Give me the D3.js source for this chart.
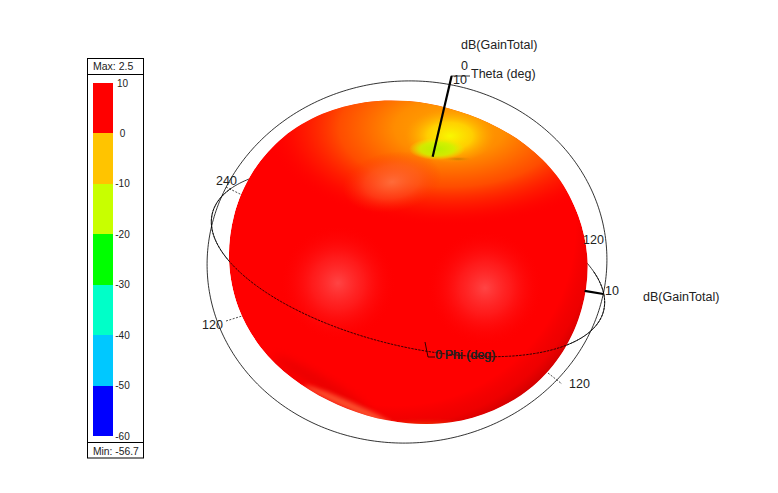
<!DOCTYPE html>
<html><head><meta charset="utf-8">
<script src="https://cdnjs.cloudflare.com/ajax/libs/d3/7.8.5/d3.min.js"></script>
<style>html,body{margin:0;background:#fff}svg{display:block}text{font-family:"Liberation Sans",Arial,sans-serif;fill:#222}</style>
</head><body><svg id="c" width="778" height="493"></svg>
<script>
// legend data
const legendTicks = [10, 0, -10, -20, -30, -40, -50, -60];
const legendColors = ["#ff0000", "#ffc400", "#c8ff00", "#00ff00", "#00ffc8", "#00c8ff", "#0000ff"];
const maxLabel = "Max: 2.5", minLabel = "Min: -56.7";
// pattern outline: gain (dB) per screen direction (deg clockwise from +x)
const bodyAngles = [0,15,30,45,60,75,90,105,120,135,150,165,180,195,210,225,240,255,270,285,300,315,330,345];
const bodyGain = [1.63,1.74,1.39,0.4,-1.28,-3.03,-4.66,-5.44,-5.18,-3.72,-1.58,0.26,1.39,1.8,1.6,0.57,-1.28,-3.24,-4.78,-5.44,-4.83,-3.07,-0.94,0.57];

const svg = d3.select("#c"), defs = svg.append("defs");
const cx = 408, cy = 262;
const rScale = d3.scaleLinear().domain([-60, 10]).range([0, 204]);
const polar = (deg, r) => [cx + r * Math.cos(deg * Math.PI / 180), cy + r * Math.sin(deg * Math.PI / 180)];

/* ---------- legend ---------- */
const yL = d3.scaleLinear().domain([10, -60]).range([83, 436]);
const leg = svg.append("g");
leg.selectAll("rect.b").data(legendColors).join("rect").attr("class","b")
  .attr("x",93).attr("width",20)
  .attr("y",(d,i)=>yL(legendTicks[i])).attr("height",(d,i)=>yL(legendTicks[i+1])-yL(legendTicks[i]))
  .attr("fill",d=>d).attr("shape-rendering","crispEdges");
leg.append("rect").attr("x",87.5).attr("y",58.5).attr("width",56).attr("height",399.5).attr("fill","none").attr("stroke","#000");
[74.5,442.5].forEach(y=>leg.append("line").attr("x1",87.5).attr("x2",143.5).attr("y1",y).attr("y2",y).attr("stroke","#000"));
leg.selectAll("text.t").data(legendTicks).join("text").attr("class","t")
  .attr("x",122.5).attr("y",d=>yL(d)+3.5).attr("text-anchor","middle").attr("font-size",10).text(d=>d);
leg.append("text").attr("x",93).attr("y",70).attr("font-size",10.5).text(maxLabel);
leg.append("text").attr("x",93).attr("y",455).attr("font-size",10.3).text(minLabel);

/* ---------- frame circles ---------- */
const ringPath = (a,b,rot,c0,c1,x0=cx,y0=cy) => {
  const ts = d3.range(c0, c1+0.5, 1), ro = rot*Math.PI/180;
  return d3.line().curve(d3.curveLinear)(ts.map(t=>{
    const u=a*Math.cos(t*Math.PI/180), v=b*Math.sin(t*Math.PI/180);
    return [x0+u*Math.cos(ro)-v*Math.sin(ro), y0+u*Math.sin(ro)+v*Math.cos(ro)];
  }));
};
const ring = (d,extra)=>svg.append("path").attr("d",d).attr("fill","none").attr("stroke","#000").attr("stroke-width",0.8).attr("stroke-dasharray",extra||null);
ring(ringPath(200,181,-4,0,360,407,262));
ring(ringPath(201.6,83.7,14,0,360));

/* tick stubs */
const stub = (x1,y1,x2,y2)=>svg.append("line").attr("x1",x1).attr("y1",y1).attr("x2",x2).attr("y2",y2).attr("stroke","#000").attr("stroke-width",0.7).attr("stroke-dasharray","2 1.5");
stub(226,321,242,316); stub(226,187,242,195); stub(548,373,562,384);

/* ---------- pattern body ---------- */
const outline = d3.lineRadial().curve(d3.curveCatmullRomClosed)
  .angle((d,i)=>(bodyAngles[i]+90)*Math.PI/180).radius(d=>rScale(d))(bodyGain);
defs.append("clipPath").attr("id","bodyClip").append("path").attr("d",outline).attr("transform",`translate(${cx},${cy})`);
const blur = (id,s)=>defs.append("filter").attr("id",id).attr("x","-50%").attr("y","-50%").attr("width","200%").attr("height","200%").append("feGaussianBlur").attr("stdDeviation",s);
blur("b2",2); blur("b4",4);
const grad = (id,stops,attrs={})=>{const g=defs.append("radialGradient").attr("id",id);Object.entries(attrs).forEach(([k,v])=>g.attr(k,v));
  stops.forEach(s=>g.append("stop").attr("offset",s[0]).attr("stop-color",s[1]).attr("stop-opacity",s[2]));};
grad("rim",[[0.84,"#b00000",0],[0.93,"#c80000",0.3],[1,"#b80000",0.75]],{gradientUnits:"userSpaceOnUse",cx:395,cy:225,r:215});
grad("hi",[[0,"#ff4444",1],[0.45,"#ff2626",0.7],[1,"#ff0000",0]]);
grad("glow",[[0,"#ff7040",0.9],[0.55,"#ff5a28",0.5],[1,"#ff3000",0]]);
grad("top",[[0,"#ffa800",1],[0.3,"#ff8c00",1],[0.6,"#ff5a00",0.85],[0.82,"#ff2400",0.5],[1,"#ff0000",0]]);
grad("yel",[[0,"#f8f800",1],[0.5,"#ffdc00",0.8],[1,"#ffa800",0]]);
grad("grn",[[0,"#b8f000",1],[0.6,"#ccf400",0.85],[1,"#e8f000",0]]);
grad("dark",[[0,"#a07000",0.6],[1,"#ff9000",0]]);
const b = svg.append("g").attr("clip-path","url(#bodyClip)");
b.append("path").attr("d",outline).attr("transform",`translate(${cx},${cy})`).attr("fill","#ff0000");
const el=(x,y,rx,ry,f,rot)=>b.append("ellipse").attr("cx",x).attr("cy",y).attr("rx",rx).attr("ry",ry).attr("fill",`url(#${f})`).attr("transform",rot?`rotate(${rot} ${x} ${y})`:null);
b.append("circle").attr("cx",cx).attr("cy",cy).attr("r",260).attr("fill","url(#rim)");
el(338,283,58,58,"hi"); el(485,288,58,58,"hi");
el(450,128,185,98,"top");
el(392,182,50,30,"glow",-10);
el(450,136,45,27,"yel");
el(437,149,28,11,"grn");
el(458,159,16,2.5,"dark");
b.append("ellipse").attr("cx",322).attr("cy",384).attr("rx",55).attr("ry",7).attr("fill","#c80000").attr("opacity",0.35).attr("transform","rotate(30 322 384)").attr("filter","url(#b4)");
b.append("ellipse").attr("cx",350).attr("cy",406).attr("rx",50).attr("ry",4).attr("fill","#ff6238").attr("opacity",0.8).attr("transform","rotate(24 350 406)").attr("filter","url(#b2)");
b.append("ellipse").attr("cx",425).attr("cy",426).attr("rx",42).attr("ry",4).attr("fill","#f04000").attr("opacity",0.7).attr("filter","url(#b2)");

/* front arc of the phi circle over the body */
ring(ringPath(201.6,83.7,14,-25,200),"2.5 1");

/* ---------- gain axes ---------- */
const seg=(deg,r0,r1,w)=>{const p=polar(deg,r0),q=polar(deg,r1);
  svg.append("line").attr("x1",p[0]).attr("y1",p[1]).attr("x2",q[0]).attr("y2",q[1]).attr("stroke","#000").attr("stroke-width",w);};
seg(-76.8,108,191,2.2);
seg(9.3,179,198,2.2);
svg.append("path").attr("d","M451,76H470").attr("stroke","#000").attr("stroke-width",0.8).attr("fill","none");
svg.append("path").attr("d","M425,342L427,352L428,357H435").attr("stroke","#000").attr("stroke-width",0.8).attr("fill","none");

/* ---------- labels ---------- */
const txt=(x,y,s,size=12.5)=>svg.append("text").attr("x",x).attr("y",y).attr("font-size",size).text(s);
txt(461,49,"dB(GainTotal)");
txt(643,301,"dB(GainTotal)");
txt(461,70,"0"); txt(471,78,"Theta (deg)"); txt(453,84,"10");
txt(605,295,"10");
txt(435,359,"0"); txt(444.5,359,"Phi (deg)"); txt(445,359,"Phi (deg)"); txt(435.4,359,"0");
txt(216,185,"240"); txt(202,329,"120"); txt(569,388,"120"); txt(583,244,"120");
</script></body></html>
